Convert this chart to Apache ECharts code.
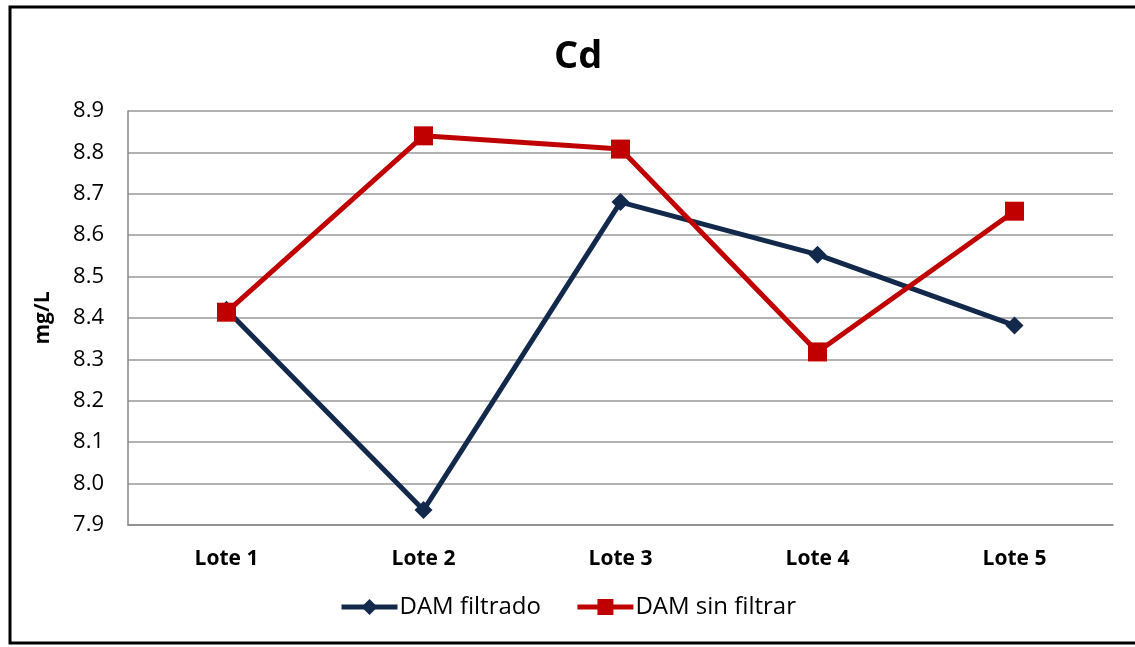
<!DOCTYPE html>
<html><head><meta charset="utf-8">
<script src="https://cdn.jsdelivr.net/npm/echarts@6/dist/echarts.min.js"></script>
<style>html,body{margin:0;padding:0;background:#fff}#c{width:1135px;height:647px}</style>
</head><body><div id="c"></div>
<script>
const categories = ['Lote 1','Lote 2','Lote 3','Lote 4','Lote 5'];
const damFiltrado = [8.42, 7.936, 8.68, 8.553, 8.382];
const damSinFiltrar = [8.414, 8.84, 8.808, 8.318, 8.658];
const seriesNames = ['DAM filtrado','DAM sin filtrar'];
const font = 'Open Sans, Liberation Sans, sans-serif';
const chart = echarts.init(document.getElementById('c'));
chart.setOption({
  animation:false,
  title:{text:'Cd', left:549, top:33, textStyle:{fontFamily:font, fontSize:38, fontWeight:'bold', color:'#000'}},
  graphic:[{type:'rect', shape:{x:10, y:7, width:1135, height:636}, style:{fill:'none', stroke:'#000', lineWidth:3}}],
  grid:{left:128, right:22, top:111, bottom:122},
  legend:{bottom:23, left:'center', itemWidth:56, itemHeight:20, itemGap:34,
    lineStyle:{width:5},
    textStyle:{fontFamily:font, fontSize:24, color:'#000', padding:[0,0,0,-3]}, data:seriesNames},
  xAxis:{type:'category', data:categories, boundaryGap:true,
    axisLine:{lineStyle:{color:'#888', width:1.5}},
    axisTick:{alignWithLabel:true, length:5, lineStyle:{color:'#888'}},
    axisLabel:{fontFamily:font, fontSize:21, fontWeight:'bold', color:'#000', margin:24}},
  yAxis:{type:'value', min:7.9, max:8.9, interval:0.1,
    name:'mg/L', nameLocation:'middle', nameGap:74, nameRotate:90,
    nameTextStyle:{fontFamily:font, fontSize:21, fontWeight:'bold', color:'#000'},
    axisLine:{show:true, lineStyle:{color:'#888', width:1.5}},
    axisTick:{show:false},
    splitLine:{lineStyle:{color:'#999', width:1.5}},
    axisLabel:{fontFamily:font, fontSize:22, color:'#000', margin:24, formatter:v=>v.toFixed(1)}},
  series:[
    {name:seriesNames[0], type:'line', data:damFiltrado, symbol:'diamond', symbolSize:18,
      lineStyle:{color:'#13294b', width:5}, itemStyle:{color:'#13294b'}},
    {name:seriesNames[1], type:'line', data:damSinFiltrar, symbol:'rect', symbolSize:19,
      lineStyle:{color:'#c00000', width:5}, itemStyle:{color:'#c00000'}}
  ]
});
</script></body></html>
